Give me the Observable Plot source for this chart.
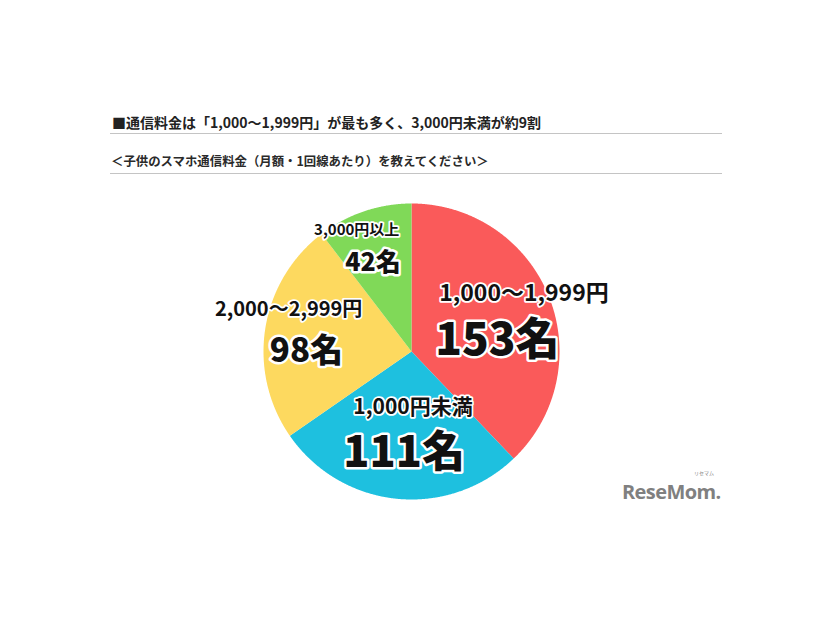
<!DOCTYPE html>
<html>
<head>
<meta charset="utf-8">
<script src="https://cdn.jsdelivr.net/npm/d3@7"></script>
<script src="https://cdn.jsdelivr.net/npm/@observablehq/plot@0.6"></script>
<style>
  html, body { margin: 0; padding: 0; background: #fff; }
  #wrap { position: relative; width: 826px; height: 620px; overflow: hidden; font-family: "Noto Sans CJK JP", "Noto Sans", sans-serif; }
  #chart { position: absolute; left: 0; top: 0; }
  .title { position: absolute; left: 112px; top: 113px; font-size: 14px; font-weight: 700; color: #222; line-height: 18px; white-space: nowrap; }
  .sub { position: absolute; left: 111px; top: 152px; font-size: 12.4px; font-weight: 600; color: #2a2a2a; line-height: 18px; white-space: nowrap; }
  .rule { position: absolute; left: 110px; width: 612px; height: 0; border-top: 1.5px solid #c4c4c4; }
  .logo { position: absolute; left: 622px; top: 481px; font-family: "Open Sans", sans-serif; font-weight: 700; font-size: 20px; line-height: 22px; color: #808080; letter-spacing: -0.6px; }
  .logo-small { position: absolute; left: 694px; top: 470px; line-height: 6px; font-size: 5px; font-weight: 400; color: #808080; }
</style>
</head>
<body>
<div id="wrap">
  <div id="chart"></div>
  <div class="title">■通信料金は「1,000～1,999円」が最も多く、3,000円未満が約9割</div>
  <div class="rule" style="top:133px"></div>
  <div class="sub">＜子供のスマホ通信料金（月額・1回線あたり）を教えてください＞</div>
  <div class="rule" style="top:173px"></div>
  <div class="logo">ReseMom.</div>
  <div class="logo-small">リセマム</div>
</div>
<script>
// ---- data ----
const categories = ["1,000～1,999円", "1,000円未満", "2,000～2,999円", "3,000円以上"];
const counts = [153, 111, 98, 42];
const countLabels = ["153名", "111名", "98名", "42名"];
const colors = ["#fa5a5a", "#1ec0df", "#fdd95f", "#80d958"];

// ---- label layout (pie units, centre = 0,0, radius = 1) ----
const catLabelPos = [[0.76, 0.39], [0.01, -0.38], [-0.83, 0.28], [-0.37, 0.82]];
const cntLabelPos = [[0.58, 0.07], [-0.05, -0.69], [-0.71, 0.0], [-0.26, 0.60]];
const catLabelSize = [23, 21, 20, 15];
const cntLabelSize = [44, 43, 33, 25];

// ---- build slices ----
const arcs = d3.pie().sort(null).value(d => d)(counts);
const pts = [];
arcs.forEach((a, i) => {
  const cat = categories[i];
  pts.push({cat, x: 0, y: 0});
  const n = Math.max(2, Math.ceil((a.endAngle - a.startAngle) / 0.005));
  for (let k = 0; k <= n; k++) {
    const t = a.startAngle + (a.endAngle - a.startAngle) * k / n;
    pts.push({cat, x: Math.sin(t), y: Math.cos(t)});
  }
  pts.push({cat, x: 0, y: 0});
});

const labels = categories.map((c, i) => ({
  cat: c, count: countLabels[i],
  cx: catLabelPos[i][0], cy: catLabelPos[i][1],
  nx: cntLabelPos[i][0], ny: cntLabelPos[i][1],
  cs: catLabelSize[i], ns: cntLabelSize[i]
}));

const marks = [
  Plot.line(pts, {x: "x", y: "y", z: "cat", fill: "cat", stroke: "none", curve: "linear"})
];
labels.forEach(d => {
  marks.push(Plot.text([d], {x: "cx", y: "cy", text: "cat", fontSize: d.cs, fontWeight: 700,
    fill: "#111", stroke: "white", strokeWidth: 3.5, fontFamily: "Noto Sans CJK JP"}));
  marks.push(Plot.text([d], {x: "nx", y: "ny", text: "count", fontSize: d.ns, fontWeight: 900,
    fill: "#111", stroke: "white", strokeWidth: 5, fontFamily: "Noto Sans CJK JP"}));
});

const chart = Plot.plot({
  width: 826, height: 620, margin: 0,
  x: {domain: [-1, 1], range: [263, 559], axis: null},
  y: {domain: [-1, 1], range: [499, 203], axis: null},
  color: {domain: categories, range: colors},
  style: {background: "transparent"},
  marks
});
document.getElementById("chart").appendChild(chart);
</script>
</body>
</html>
